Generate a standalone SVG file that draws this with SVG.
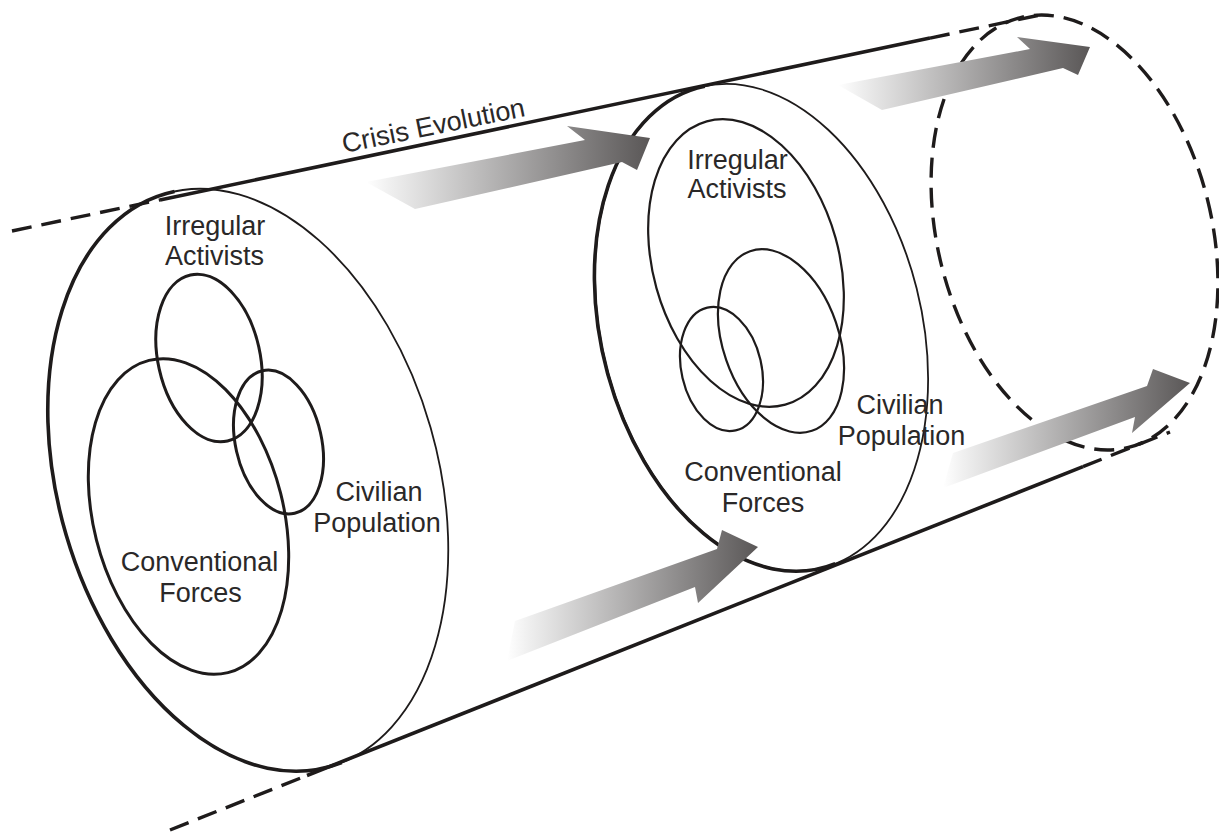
<svg xmlns="http://www.w3.org/2000/svg" width="1219" height="832" viewBox="0 0 1219 832">
  <style>
    .thin { fill: none; stroke: #1e1b1b; stroke-width: 1.8; }
    .thick { fill: none; stroke: #1e1b1b; stroke-width: 3.6; stroke-linecap: butt; }
    .venn { fill: none; stroke: #1e1b1b; stroke-width: 3; }
    .venn2 { fill: none; stroke: #1e1b1b; stroke-width: 2.2; }
    .dash { fill: none; stroke: #1e1b1b; stroke-width: 3.4; stroke-dasharray: 20 10; }
    .lbl { font-family: "Liberation Sans", Arial, sans-serif; font-size: 27px; fill: #2a2828; text-anchor: middle; }
    .arrow { fill: url(#grad); }
  </style>
  <defs>
    <linearGradient id="grad" x1="0" y1="0" x2="1" y2="0">
      <stop offset="0" stop-color="#ffffff"/>
      <stop offset="0.08" stop-color="#f0f0f0"/>
      <stop offset="1" stop-color="#5a5757"/>
    </linearGradient>
  </defs>
  <rect width="1219" height="832" fill="#ffffff"/>

  <g id="cylinder-edges">
    <line class="dash" x1="12" y1="231" x2="160" y2="199.9"/>
    <line class="thick" x1="160" y1="199.9" x2="930" y2="38.1"/>
    <line class="dash" x1="930" y1="38.1" x2="1045" y2="14"/>
    <line class="dash" x1="170" y1="830" x2="307" y2="775.5"/>
    <line class="thick" x1="307" y1="775.5" x2="1083" y2="466.6"/>
    <line class="dash" x1="1083" y1="466.6" x2="1170" y2="432"/>
  </g>

  <g id="left-section">
    <ellipse class="thin" cx="248" cy="480" rx="190" ry="298" transform="rotate(-16 248 480)"/>
    <path class="thick" d="M174.5,191.4 A190,298 -16 1 0 341.7,762.5"/>
    <g id="left-irregular">
      <ellipse class="venn" cx="209" cy="358" rx="51" ry="85" transform="rotate(-12.6 209 358)"/>
      <text class="lbl" x="215" y="235">Irregular</text>
      <text class="lbl" x="214.5" y="265">Activists</text>
    </g>
    <g id="left-civilian">
      <ellipse class="venn" cx="278.5" cy="442" rx="43" ry="73" transform="rotate(-12.8 278.5 442)"/>
      <text class="lbl" x="379" y="501">Civilian</text>
      <text class="lbl" x="377" y="532">Population</text>
    </g>
    <g id="left-conventional">
      <ellipse class="venn" cx="188.5" cy="516.5" rx="95" ry="161" transform="rotate(-14.2 188.5 516.5)"/>
      <text class="lbl" x="199.5" y="571">Conventional</text>
      <text class="lbl" x="200.5" y="602">Forces</text>
    </g>
  </g>

  <g id="middle-section">
    <ellipse class="thin" cx="761.5" cy="327.5" rx="160" ry="248" transform="rotate(-14.2 761.5 327.5)"/>
    <path class="thick" d="M704.8,86.2 A160,248 -14.2 1 0 835.3,563.7"/>
    <g id="middle-irregular">
      <ellipse class="venn2" cx="746" cy="263" rx="93" ry="147" transform="rotate(-15.5 746 263)"/>
      <text class="lbl" x="737.5" y="169">Irregular</text>
      <text class="lbl" x="737" y="198">Activists</text>
    </g>
    <g id="middle-civilian">
      <ellipse class="venn2" cx="781" cy="341" rx="58" ry="95" transform="rotate(-19 781 341)"/>
      <text class="lbl" x="900" y="414">Civilian</text>
      <text class="lbl" x="901.5" y="445">Population</text>
    </g>
    <g id="middle-conventional">
      <ellipse class="venn2" cx="721.5" cy="369" rx="40" ry="63" transform="rotate(-13 721.5 369)"/>
      <text class="lbl" x="763" y="481">Conventional</text>
      <text class="lbl" x="763" y="512">Forces</text>
    </g>
  </g>

  <g id="right-section">
    <ellipse class="dash" cx="1074.5" cy="232.5" rx="137" ry="221.6" transform="rotate(-14.1 1074.5 232.5)"/>
  </g>

  <g id="title">
    <text class="lbl" style="text-anchor:start" x="344" y="153" transform="rotate(-11.5 344 153)">Crisis Evolution</text>
  </g>

  <g id="connectors">
    <polygon class="arrow" points="366,182 585,140 567,126 650,138 637,170 622,162 415,209"/>
    <polygon class="arrow" points="515,621 717,549 722,530 758,547 698,603 695,587 507,661"/>
    <polygon class="arrow" points="838,85 1030,49 1017,37 1090,47 1078,75 1063,68 882,110"/>
    <polygon class="arrow" points="953,453 1147,386 1153,369 1190,383 1132,433 1135,417 943,488"/>
  </g>
</svg>
